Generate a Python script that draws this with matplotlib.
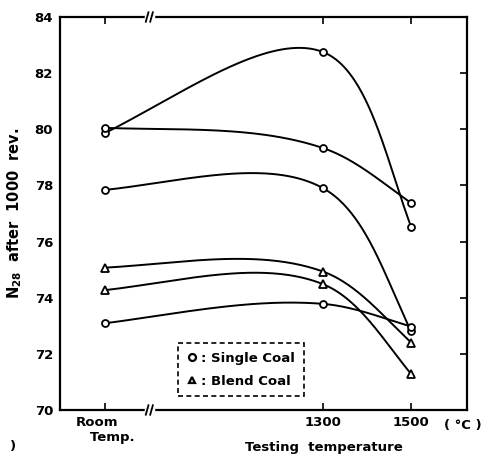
import numpy as np
import matplotlib
matplotlib.use('Agg')
import matplotlib.pyplot as plt
from matplotlib.lines import Line2D

# positions on the (broken) temperature axis; "Room Temp." sits left of the break
temp_pos = [805, 1300, 1500]
temp_labels = ['Room\n   Temp.', '1300', '1500']

# N28 after 1000 rev. at room temp, 1300 and 1500 C
single_coal = [
    [79.87, 82.75, 76.52],
    [80.05, 79.33, 77.37],
    [77.84, 77.90, 72.80],
    [73.09, 73.78, 72.97],
]
blend_coal = [
    [75.07, 74.93, 72.40],
    [74.27, 74.48, 71.28],
]

y_ticks = [70, 72, 74, 76, 78, 80, 82, 84]
x_lim = (702, 1627)
y_lim = (70, 84)
x_break = 905


def smooth(xs, ys, w, h, n=80, k=0.25):
    # hand-drawn looking curve: hermite spline through the points in screen space
    p = np.column_stack([(np.asarray(xs) - x_lim[0]) / (x_lim[1] - x_lim[0]) * w,
                         (np.asarray(ys) - y_lim[0]) / (y_lim[1] - y_lim[0]) * h])
    d = np.linalg.norm(np.diff(p, axis=0), axis=1)
    u = np.diff(p, axis=0) / d[:, None]
    m = np.zeros_like(p)
    for i in range(1, len(p) - 1):
        m[i] = 0.5 * (u[i - 1] + u[i])
    m[0] = u[0] + k * (u[0] - m[1])
    m[-1] = u[-1] + k * (u[-1] - m[-2])
    out = []
    t = np.linspace(0, 1, n)[:, None]
    for i in range(len(p) - 1):
        h00 = 2 * t**3 - 3 * t**2 + 1
        h10 = t**3 - 2 * t**2 + t
        h01 = -2 * t**3 + 3 * t**2
        h11 = t**3 - t**2
        seg = h00 * p[i] + h10 * m[i] * d[i] + h01 * p[i + 1] + h11 * m[i + 1] * d[i]
        out.append(seg if i == 0 else seg[1:])
    out = np.vstack(out)
    return (out[:, 0] / w * (x_lim[1] - x_lim[0]) + x_lim[0],
            out[:, 1] / h * (y_lim[1] - y_lim[0]) + y_lim[0])


plt.rcParams['font.family'] = 'DejaVu Sans'
plt.rcParams['font.weight'] = 'bold'
plt.rcParams['mathtext.default'] = 'bf'

fig = plt.figure(figsize=(4.82, 4.63), dpi=100)
ax = fig.add_axes([0.1245, 0.1145, 0.8444, 0.8488])
ax.set_xlim(*x_lim)
ax.set_ylim(*y_lim)

w_px = 0.8444 * 482
h_px = 0.8488 * 463

for vals in single_coal:
    cx, cy = smooth(temp_pos, vals, w_px, h_px)
    ax.plot(cx, cy, color='black', lw=1.4, zorder=2)
    ax.plot(temp_pos, vals, 'o', ms=5, mfc='white', mec='black', mew=1.3, zorder=3)
for vals in blend_coal:
    cx, cy = smooth(temp_pos, vals, w_px, h_px)
    ax.plot(cx, cy, color='black', lw=1.4, zorder=2)
    ax.plot(temp_pos, vals, '^', ms=5.5, mfc='white', mec='black', mew=1.3, zorder=3)

for s in ax.spines.values():
    s.set_linewidth(1.6)

ax.set_yticks(y_ticks)
ax.set_xticks(temp_pos)
ax.set_xticklabels(temp_labels, multialignment='left')
ax.tick_params(axis='both', direction='in', labelsize=9.5, width=1.2, length=5, pad=5)
ax.tick_params(axis='x', top=True, pad=4)
ax.tick_params(axis='y', right=True, left=False)

# axis break marks on top and bottom spines
for yb in (0, 1):
    ax.plot([x_break - 8, x_break + 8], [yb, yb], color='white', lw=2.5,
            transform=ax.get_xaxis_transform(), clip_on=False, zorder=5)
    for dx in (-5, 5):
        ax.plot([x_break + dx - 3, x_break + dx + 3], [yb - 0.012, yb + 0.012], color='black', lw=1.3,
                transform=ax.get_xaxis_transform(), clip_on=False, zorder=6)

ax.set_ylabel('N$_{28}$  after  1000  rev.', fontsize=10.5, fontweight='bold')
ax.yaxis.set_label_coords(-0.088, 0.5)
ax.set_xlabel('Testing  temperature', fontsize=9.5, fontweight='bold')
ax.xaxis.set_label_coords(0.648, -0.078)
ax.text(0.99, -0.04, '( \u00b0C )', transform=ax.transAxes, fontsize=9.5,
        ha='center', va='center', clip_on=False)
fig.text(0.02, 0.035, ')', fontsize=9.5, va='center')

handles = [Line2D([], [], ls='', marker='o', ms=5, mfc='white', mec='black', mew=1.6),
           Line2D([], [], ls='', marker='^', ms=5, mfc='white', mec='black', mew=1.6)]
leg = ax.legend(handles, [': Single Coal', ': Blend Coal'], loc='lower left',
                bbox_to_anchor=(0.274, 0.018), fontsize=9.5, handlelength=0.8,
                handletextpad=0.3, borderpad=0.65, labelspacing=0.75,
                fancybox=False, framealpha=1, edgecolor='black')
leg.get_frame().set_linestyle((0, (3, 2)))
leg.get_frame().set_linewidth(1.2)

fig.savefig('out.png', dpi=100)
